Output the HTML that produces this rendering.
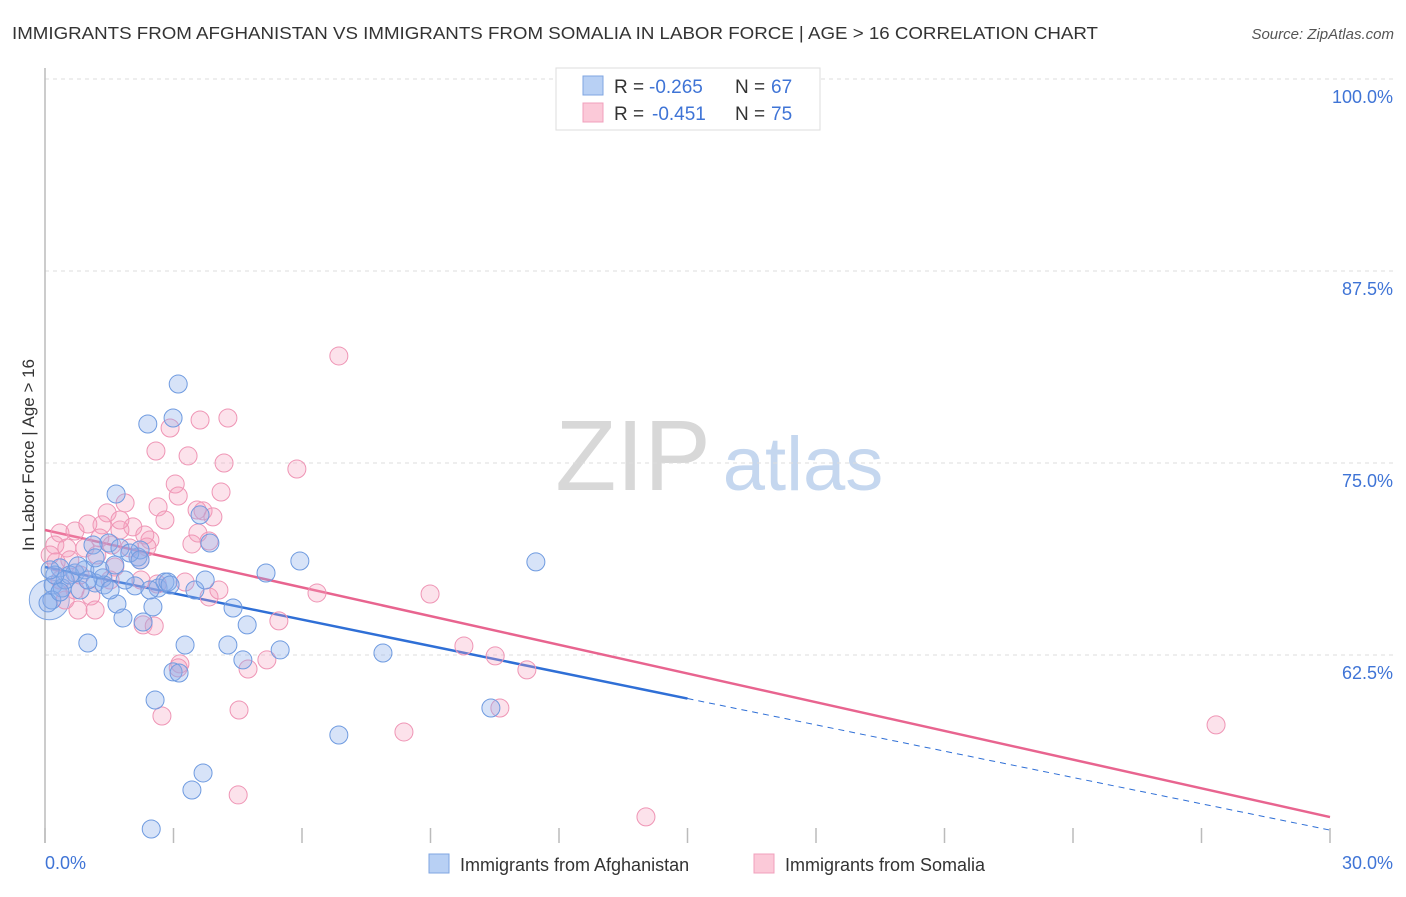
<!DOCTYPE html>
<html><head><meta charset="utf-8">
<style>
body{margin:0;background:#fff;font-family:"Liberation Sans",sans-serif;}
svg text{font-family:"Liberation Sans",sans-serif;}
</style></head>
<body>
<svg id="chart" width="1406" height="892" viewBox="0 0 1406 892" xmlns="http://www.w3.org/2000/svg">
<text x="12" y="39" font-size="17.5" fill="#333" textLength="1086" lengthAdjust="spacingAndGlyphs">IMMIGRANTS FROM AFGHANISTAN VS IMMIGRANTS FROM SOMALIA IN LABOR FORCE | AGE &gt; 16 CORRELATION CHART</text>
<text x="1394" y="39" font-size="15" fill="#555" font-style="italic" text-anchor="end">Source: ZipAtlas.com</text>
<g>
<text x="633" y="490" font-size="100" fill="#d8d8d8" font-family="Liberation Serif" text-anchor="middle">ZIP</text>
<text x="803" y="490" font-size="76" fill="#c5d7ef" text-anchor="middle">atlas</text>
</g>
<g id="grid"></g>
<g id="axes"></g>
<g id="trends"></g>
<g id="points"></g>
<text transform="translate(34,455) rotate(-90)" font-size="17" fill="#333" text-anchor="middle">In Labor Force | Age &gt; 16</text>
<g>
<rect x="556" y="68" width="264" height="62" fill="#fff" stroke="#ddd"/>
<rect x="583" y="76" width="20" height="19" fill="#b8d0f4" stroke="#7fa6e2"/>
<rect x="583" y="103" width="20" height="19" fill="#fbc9d8" stroke="#f0a0bc"/>
<text x="614" y="93" font-size="19" fill="#333">R =</text>
<text x="649" y="93" font-size="19" fill="#3f74d6">-0.265</text>
<text x="735" y="93" font-size="19" fill="#333">N =</text>
<text x="771" y="93" font-size="19" fill="#3f74d6">67</text>
<text x="614" y="120" font-size="19" fill="#333">R =</text>
<text x="652" y="120" font-size="19" fill="#3f74d6">-0.451</text>
<text x="735" y="120" font-size="19" fill="#333">N =</text>
<text x="771" y="120" font-size="19" fill="#3f74d6">75</text>
</g>
<g>
<rect x="429" y="854" width="20" height="19" fill="#b8d0f4" stroke="#7fa6e2"/>
<text x="460" y="871" font-size="18" fill="#333">Immigrants from Afghanistan</text>
<rect x="754" y="854" width="20" height="19" fill="#fbc9d8" stroke="#f0a0bc"/>
<text x="785" y="871" font-size="18" fill="#333">Immigrants from Somalia</text>
</g>
</svg>
<script>
const blueX=[3.11,2.40,2.99,1.66,3.62,3.85,2.17,2.22,1.49,1.12,0.35,0.70,1.35,1.17,1.38,0.19,0.40,0.82,2.10,2.64,2.80,3.50,3.74,2.52,4.39,1.68,1.82,4.72,2.29,1.00,3.27,4.27,5.49,4.62,7.89,2.99,3.13,2.57,10.41,6.86,3.69,3.43,2.48,5.16,5.95,11.46,2.87,0.16,0.07,0.58,0.93,1.75,1.98,1.28,0.47,0.23,1.52,2.45,1.17,0.77,0.35,1.00,2.22,0.12,1.87,2.92,1.63];
const blueY=[80.14,77.54,77.93,72.98,71.62,69.79,68.88,69.34,69.79,69.66,68.17,67.84,67.52,67.19,67.06,67.06,66.86,66.73,67.0,66.86,67.25,66.73,67.38,65.63,65.56,65.82,64.91,64.46,64.65,63.28,63.15,63.15,62.83,62.18,62.63,61.4,61.33,59.57,59.05,57.29,54.82,53.71,51.17,67.84,68.62,68.56,67.25,66.08,65.89,67.71,68.04,69.47,69.14,68.04,67.38,67.71,66.73,66.73,68.82,68.3,66.6,67.38,68.69,68.04,67.38,67.06,68.36];
const pinkX=[6.86,3.62,4.27,2.92,2.59,3.34,4.18,5.88,3.04,4.11,3.11,1.87,2.64,1.45,3.55,3.69,3.92,1.33,2.05,1.75,0.35,0.70,1.00,3.57,2.45,1.56,3.43,3.83,2.38,0.23,0.51,0.93,1.21,2.22,1.63,0.26,0.58,0.82,1.07,0.77,2.24,2.62,3.27,3.83,4.06,2.29,2.55,5.46,6.35,8.99,9.78,10.51,11.25,5.18,4.74,3.15,3.11,4.53,2.73,8.38,10.62,4.51,14.03,27.34,1.52,0.35,0.12,1.98,1.28,0.70,0.47,1.17,1.75,2.33,2.80];
const pinkY=[81.97,77.8,77.93,77.28,75.78,75.46,75.0,74.61,73.63,73.11,72.85,72.4,72.14,71.75,71.94,71.88,71.49,70.97,70.84,70.64,70.44,70.57,71.03,70.44,69.99,69.66,69.73,69.92,69.53,69.66,69.47,69.47,69.01,68.69,68.23,68.56,68.69,67.71,66.34,65.43,67.38,67.12,67.25,66.28,66.73,64.46,64.39,64.72,66.54,66.47,63.09,62.44,61.53,62.18,61.59,61.92,61.66,58.92,58.53,57.49,59.05,53.39,51.96,57.95,67.38,67.38,69.01,69.47,70.12,66.73,66.08,65.43,71.29,70.31,71.29];
const blueTrend=[68.23,51.1];
const pinkTrend=[70.64,51.95];
const yTicks=[100,87.5,75,62.5];
const yTickLabels=["100.0%","87.5%","75.0%","62.5%"];
const xTickLabels=["0.0%","30.0%"];

const NS="http://www.w3.org/2000/svg";
const X0=45,X1=1330,YTOP=79,PXPER=15.36;
function sx(v){return X0+(v/30)*(X1-X0);}
function sy(v){return YTOP+(100-v)*PXPER;}
function mk(tag,attrs,parent){const e=document.createElementNS(NS,tag);for(const k in attrs)e.setAttribute(k,attrs[k]);parent.appendChild(e);return e;}
const grid=document.getElementById('grid'),axes=document.getElementById('axes'),trends=document.getElementById('trends'),pts=document.getElementById('points');
yTicks.forEach((t,i)=>{
  const l=mk('line',{x1:X0,x2:1393,y1:sy(t),y2:sy(t),stroke:'#ddd','stroke-dasharray':'4,4'},grid);
  
  
  const tx=mk('text',{x:1393,y:sy(t)+24,'font-size':18,fill:'#3f74d6','text-anchor':'end'},axes);
  tx.textContent=yTickLabels[i];
  
  
});
const ya=mk('line',{x1:X0,x2:X0,y1:68,y2:843,stroke:'#bbb','stroke-width':1.5},axes);


for(let i=0;i<=10;i++){
  const t=mk('line',{x1:sx(i*3),x2:sx(i*3),y1:828,y2:843,stroke:'#bbb','stroke-width':1.5},axes);
  
  
}
const xl0=mk('text',{x:45,y:869,'font-size':18,fill:'#3f74d6'},axes);xl0.textContent=xTickLabels[0];


const xl1=mk('text',{x:1393,y:869,'font-size':18,fill:'#3f74d6','text-anchor':'end'},axes);xl1.textContent=xTickLabels[1];



function trendAt(tr,x){return tr[0]+(tr[1]-tr[0])*x/30;}
const pl=mk('line',{x1:sx(0),y1:sy(trendAt(pinkTrend,0)),x2:sx(30),y2:sy(trendAt(pinkTrend,30)),stroke:'#e8648f','stroke-width':2.5},trends);


const bl=mk('line',{x1:sx(0),y1:sy(trendAt(blueTrend,0)),x2:sx(15),y2:sy(trendAt(blueTrend,15)),stroke:'#2f6fd6','stroke-width':2.5},trends);


const bd=mk('line',{x1:sx(15),y1:sy(trendAt(blueTrend,15)),x2:sx(30),y2:sy(trendAt(blueTrend,30)),stroke:'#2f6fd6','stroke-width':1,'stroke-dasharray':'6,5'},trends);



const big=mk('circle',{cx:sx(0.1),cy:sy(66.1),r:20,fill:'rgba(140,175,235,0.35)',stroke:'#7fa6e2','stroke-width':1},pts);


pinkX.forEach((x,i)=>{
  const c=mk('circle',{cx:sx(x),cy:sy(pinkY[i]),r:9,fill:'rgba(245,160,190,0.3)',stroke:'#ef95b5','stroke-width':1},pts);
  
  
});
blueX.forEach((x,i)=>{
  const c=mk('circle',{cx:sx(x),cy:sy(blueY[i]),r:9,fill:'rgba(140,175,235,0.35)',stroke:'#6f9be0','stroke-width':1},pts);
  
  
});
</script>
</body></html>
